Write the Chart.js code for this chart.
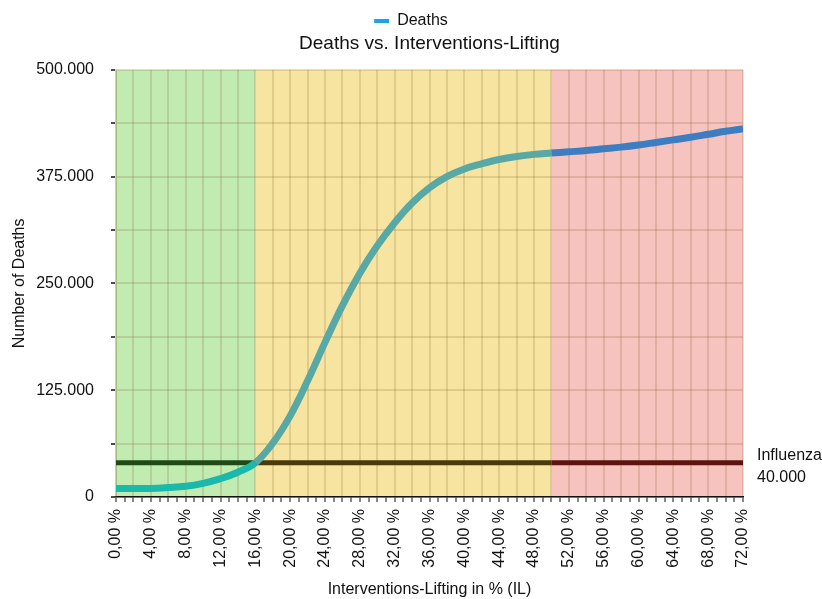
<!DOCTYPE html>
<html>
<head>
<meta charset="utf-8">
<script src="https://cdn.jsdelivr.net/npm/chart.js@4/dist/chart.umd.min.js"></script>
<style>
  html, body { margin: 0; padding: 0; background: #fff; }
  #wrap { width: 822px; height: 599px; }
</style>
</head>
<body>
<div id="wrap"><canvas id="c" width="822" height="599"></canvas></div>
<script>
// ---- Data ----
const ilPercent = [0, 2, 4, 6, 8, 10, 12, 14, 16, 18, 20, 22, 24, 26, 28, 30, 32, 34, 36, 38, 40, 42, 44, 46, 48, 50, 52, 54, 56, 58, 60, 62, 64, 66, 68, 70, 72];
const deaths = [10000, 10000, 10000, 11000, 12500, 16000, 21500, 29000, 40000, 63000, 95000, 136000, 181000, 224000, 262000, 294000, 321000, 344000, 362000, 375000, 384000, 390000, 395000, 398500, 401000, 402500, 404000, 405500, 407500, 409500, 412000, 415000, 418000, 421000, 424500, 428000, 431000];
const influenzaX = [0, 16, 50, 72];
const influenzaY = [40000, 40000, 40000, 40000];
const influenzaLabel = ['Influenza', '40.000'];
const zoneStarts = [0, 16, 50];
const zoneEnds = [16, 50, 72];
const xTickValues = [0, 4, 8, 12, 16, 20, 24, 28, 32, 36, 40, 44, 48, 52, 56, 60, 64, 68, 72];
const xTickLabels = ['0,00 %', '4,00 %', '8,00 %', '12,00 %', '16,00 %', '20,00 %', '24,00 %', '28,00 %', '32,00 %', '36,00 %', '40,00 %', '44,00 %', '48,00 %', '52,00 %', '56,00 %', '60,00 %', '64,00 %', '68,00 %', '72,00 %'];
const yTickValues = [0, 125000, 250000, 375000, 500000];
const yTickLabels = ['0', '125.000', '250.000', '375.000', '500.000'];

// ---- Styles ----
const zoneColors = ['#c1ebb1', '#f7e4a0', '#f7c3bf'];
const curveColors = ['#1bb8ac', '#58a8a6', '#3c7ec1'];
const influenzaColors = ['#1f4a16', '#4a3a0a', '#5a1510'];
const GRID = 'rgba(120,90,40,0.18)';
const FONT = "'Liberation Sans', Arial, Helvetica, sans-serif";

function zoneIndex(x) { return x < 16 ? 0 : (x < 50 ? 1 : 2); }

const zonesPlugin = {
  id: 'zones',
  beforeDraw(chart) {
    const { ctx, chartArea, scales } = chart;
    const xs = scales.x;
    ctx.save();
    for (let i = 0; i < zoneStarts.length; i++) {
      const x0 = xs.getPixelForValue(zoneStarts[i]);
      const x1 = xs.getPixelForValue(zoneEnds[i]);
      ctx.fillStyle = zoneColors[i];
      ctx.fillRect(x0, chartArea.top, x1 - x0, chartArea.bottom - chartArea.top);
    }
    ctx.restore();
  }
};

const influenzaTextPlugin = {
  id: 'influenzaText',
  afterDraw(chart) {
    const { ctx, chartArea, scales } = chart;
    const y = scales.y.getPixelForValue(influenzaY[0]);
    ctx.save();
    ctx.fillStyle = '#111';
    ctx.font = '16px ' + FONT;
    ctx.textAlign = 'left';
    ctx.textBaseline = 'middle';
    ctx.fillText(influenzaLabel[0], chartArea.right + 14, y - 7);
    ctx.fillText(influenzaLabel[1], chartArea.right + 14, y + 15);
    ctx.restore();
  }
};

new Chart(document.getElementById('c'), {
  type: 'line',
  data: {
    datasets: [
      {
        label: 'Deaths',
        data: ilPercent.map((x, i) => ({ x, y: deaths[i] })),
        borderColor: curveColors[0],
        borderWidth: 7,
        pointRadius: 0,
        tension: 0.4,
        segment: {
          borderColor: c => curveColors[zoneIndex(c.p0.parsed.x)]
        },
        order: 1
      },
      {
        label: 'Influenza',
        data: influenzaX.map((x, i) => ({ x, y: influenzaY[i] })),
        borderColor: influenzaColors[0],
        borderWidth: 5,
        pointRadius: 0,
        tension: 0,
        segment: {
          borderColor: c => influenzaColors[zoneIndex(c.p0.parsed.x)]
        },
        order: 2
      }
    ]
  },
  options: {
    responsive: false,
    animation: false,
    devicePixelRatio: 1,
    layout: { padding: { top: 9, right: 0, left: 0, bottom: 0 } },
    plugins: {
      legend: {
        display: true,
        position: 'top',
        labels: {
          font: { family: FONT, size: 16 },
          color: '#111',
          boxWidth: 15,
          boxHeight: 4,
          padding: 4,
          generateLabels: chart => [{
            text: 'Deaths',
            fillStyle: '#1e9ff0',
            strokeStyle: '#1e9ff0',
            lineWidth: 0,
            hidden: false,
            datasetIndex: 0,
            fontColor: '#111'
          }]
        }
      },
      title: {
        display: true,
        text: 'Deaths vs. Interventions-Lifting',
        fullSize: false,
        weight: 500,
        font: { family: FONT, size: 19, weight: 'normal' },
        color: '#111',
        padding: { top: -7, bottom: 15 }
      },
      tooltip: { enabled: false }
    },
    scales: {
      x: {
        type: 'linear',
        min: 0,
        max: 72,
        afterFit: s => { s.height = 102; },
        ticks: {
          stepSize: 1,
          autoSkip: false,
          minRotation: 90,
          maxRotation: 90,
          font: { family: FONT, size: 16 },
          color: '#111',
          padding: 7,
          callback: v => {
            const i = xTickValues.indexOf(v);
            return i >= 0 ? xTickLabels[i] : '';
          }
        },
        grid: {
          color: c => (c.tick && c.tick.value % 2 === 0) ? GRID : 'rgba(0,0,0,0)',
          lineWidth: 2,
          tickColor: '#111',
          tickLength: 5,
          tickWidth: 1
        },
        border: { color: '#111', width: 1.5 },
        title: {
          display: true,
          text: 'Interventions-Lifting in % (IL)',
          font: { family: FONT, size: 16 },
          color: '#111',
          padding: { top: 12, bottom: 0 }
        }
      },
      y: {
        min: 0,
        max: 500000,
        afterFit: s => { s.width = 116; },
        ticks: {
          stepSize: 62500,
          autoSkip: false,
          font: { family: FONT, size: 16 },
          color: '#111',
          padding: 17,
          callback: v => {
            const i = yTickValues.indexOf(v);
            return i >= 0 ? yTickLabels[i] : '';
          }
        },
        grid: {
          color: GRID,
          lineWidth: 2,
          tickColor: '#111',
          tickLength: 5,
          tickWidth: 1.5
        },
        border: { color: GRID, width: 2 },
        title: {
          display: true,
          text: 'Number of Deaths',
          font: { family: FONT, size: 16 },
          color: '#111',
          padding: { top: 10, bottom: 10 }
        }
      },
      yRight: {
        position: 'right',
        min: 0,
        max: 1,
        grid: { display: false, drawTicks: false },
        ticks: { display: false },
        border: { display: false },
        afterFit: s => { s.width = 79; }
      }
    }
  },
  plugins: [zonesPlugin, influenzaTextPlugin]
});
</script>
</body>
</html>
